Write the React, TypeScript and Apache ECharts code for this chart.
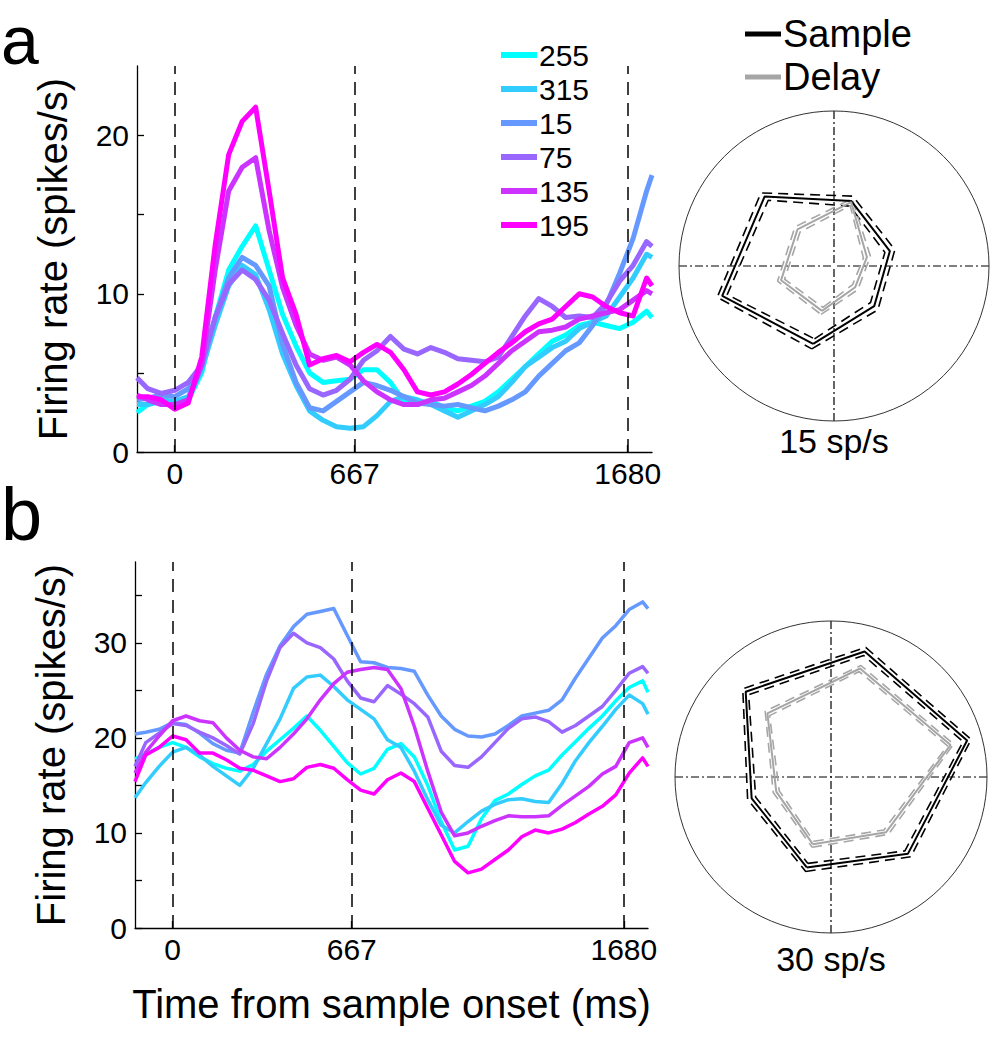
import React, { useEffect, useRef } from 'react';
import * as echarts from 'echarts';

// ---------- data ----------
const times = [-140, -100, -50, 0, 50, 100, 150, 200, 250, 300, 350, 400, 450, 500, 550, 600, 650, 700, 750, 800,
  850, 900, 950, 1000, 1050, 1100, 1150, 1200, 1250, 1300, 1350, 1400, 1450, 1500, 1550, 1600, 1650, 1700, 1750, 1770];

const directions = ['255', '315', '15', '75', '135', '195'];
const directionColors = ['#00ffff', '#33ccff', '#6699ff', '#9966ff', '#cc33ff', '#ff00ff'];

// panel a (spikes/s)
const rateA255 = [2.5, 3.0, 3.2, 3.0, 3.3, 5.0, 8.5, 11.5, 13.0, 14.3, 11.5, 8.7, 6.7, 5.0, 4.4, 4.5, 4.6, 5.2, 5.2, 4.4,
  3.2, 3.0, 3.2, 2.8, 2.6, 2.9, 3.2, 3.8, 4.6, 5.4, 6.2, 7.0, 7.4, 8.0, 8.2, 8.0, 7.8, 8.2, 8.9, 8.5];
const rateA315 = [3.0, 3.0, 3.3, 3.2, 3.5, 5.2, 8.0, 10.5, 11.8, 11.2, 9.0, 6.2, 4.2, 2.6, 2.0, 1.6, 1.5, 1.6, 2.3, 3.2,
  3.5, 3.3, 3.0, 2.6, 2.2, 2.6, 3.0, 3.5, 4.4, 5.4, 6.0, 6.6, 7.0, 7.8, 8.2, 8.6, 9.8, 11.0, 12.5, 12.3];
const rateA15 = [3.3, 3.4, 3.6, 3.5, 4.0, 5.5, 8.5, 11.0, 12.3, 11.8, 10.5, 6.8, 4.4, 2.8, 2.6, 3.2, 3.8, 4.4, 4.2, 3.9,
  3.5, 3.1, 3.0, 2.9, 3.0, 2.8, 2.6, 2.9, 3.3, 3.8, 4.8, 5.6, 6.4, 6.9, 8.0, 9.3, 11.3, 13.5, 16.5, 17.5];
const rateA75 = [4.7, 4.0, 3.7, 3.9, 4.4, 5.5, 8.5, 10.6, 11.5, 10.9, 9.6, 7.5, 5.5, 4.0, 3.6, 3.9, 4.6, 5.8, 6.4, 7.3,
  6.5, 6.2, 6.6, 6.3, 5.9, 5.8, 5.7, 6.0, 7.3, 8.6, 9.7, 9.2, 8.5, 8.6, 8.5, 9.4, 10.8, 11.8, 13.3, 13.0];
const rateA135 = [3.6, 3.3, 3.0, 3.0, 3.3, 5.5, 11.5, 16.5, 18.0, 18.6, 14.0, 10.4, 8.0, 6.2, 5.8, 6.0, 5.5, 4.5, 3.8, 3.3,
  3.0, 3.0, 3.3, 3.4, 3.8, 4.2, 4.8, 5.6, 6.4, 7.0, 7.6, 7.7, 7.9, 8.4, 8.6, 8.8, 9.0, 9.6, 10.2, 10.0];
const rateA195 = [3.5, 3.5, 3.3, 2.7, 3.1, 6.0, 13.1, 18.8, 20.9, 21.8, 16.5, 11.0, 8.7, 5.5, 5.9, 6.1, 5.7, 6.3, 6.8, 6.3,
  5.2, 3.8, 3.6, 3.8, 4.3, 4.9, 5.6, 6.3, 6.9, 7.6, 8.1, 8.4, 9.2, 10.0, 9.8, 9.2, 8.8, 8.6, 11.0, 10.5];

// panel b (spikes/s)
const rateB255 = [17.8, 18.3, 19.0, 19.5, 19.0, 18.0, 17.3, 16.8, 16.5, 17.2, 18.6, 19.8, 21.0, 22.3, 20.8, 19.1, 17.4, 16.2, 16.8, 18.8,
  19.4, 18.0, 15.0, 11.2, 8.2, 8.6, 11.5, 13.4, 14.1, 15.1, 16.0, 16.6, 18.2, 19.6, 21.0, 22.3, 23.9, 25.3, 26.0, 24.8];
const rateB315 = [13.7, 15.3, 17.0, 18.5, 19.0, 18.2, 17.0, 16.0, 15.0, 16.8, 19.4, 22.0, 25.2, 26.4, 26.6, 25.4, 24.0, 23.0, 22.0, 19.8,
  19.0, 16.5, 13.5, 10.8, 10.0, 11.2, 12.3, 13.0, 13.5, 13.6, 13.3, 13.2, 15.2, 17.6, 19.5, 21.2, 23.0, 24.5, 23.6, 22.5];
const rateB15 = [20.4, 20.6, 20.9, 21.6, 21.4, 20.5, 19.4, 18.7, 18.4, 22.7, 26.7, 29.7, 31.7, 33.0, 33.3, 33.6, 30.8, 28.0, 27.9, 27.4,
  27.3, 27.0, 24.5, 22.3, 20.9, 20.2, 20.1, 20.4, 21.3, 22.3, 22.6, 22.9, 24.0, 26.3, 28.4, 30.5, 31.8, 33.5, 34.3, 33.6];
const rateB75 = [17.0, 19.5, 20.5, 21.5, 21.3, 20.6, 20.0, 19.2, 18.3, 21.5, 26.0, 29.5, 31.0, 30.0, 29.5, 28.3, 26.0, 24.2, 23.8, 25.5,
  24.6, 23.6, 22.2, 18.6, 17.1, 16.9, 18.0, 19.5, 21.0, 22.0, 22.2, 21.7, 20.6, 21.3, 22.3, 23.3, 25.0, 26.8, 27.5, 26.8];
const rateB135 = [16.3, 18.5, 20.2, 21.8, 22.3, 21.8, 21.6, 20.0, 18.7, 18.0, 17.8, 19.0, 20.4, 22.0, 24.0, 25.7, 26.9, 27.2, 27.4, 27.2,
  25.2, 21.2, 16.5, 12.2, 9.7, 10.0, 10.7, 11.3, 11.8, 11.7, 11.7, 11.8, 12.9, 13.9, 14.9, 16.2, 17.0, 19.5, 20.0, 19.0];
const rateB195 = [15.4, 18.2, 19.0, 20.2, 19.8, 18.4, 18.4, 17.7, 16.8, 16.6, 16.0, 15.4, 15.7, 16.9, 17.2, 16.8, 15.6, 14.5, 14.1, 15.6,
  16.3, 15.4, 12.6, 9.8, 7.0, 5.8, 6.2, 7.2, 8.2, 9.6, 10.3, 10.0, 10.4, 11.1, 12.0, 12.8, 14.0, 16.3, 17.9, 17.0];

const eventTimes = [0, 667, 1680];
const xTicks = [0, 667, 1680];
const yTicksA = [0, 5, 10, 15, 20];
const yLabelsA = [0, 10, 20];
const yTicksB = [0, 5, 10, 15, 20, 25, 30, 35];
const yLabelsB = [0, 10, 20, 30];

// polar tuning (directions 255,315,15,75,135,195 deg), sp/s
const polarAngles = [255, 315, 15, 75, 135, 195];
const sampleA = [7.8, 5.5, 5.6, 6.5, 9.5, 11.2];
const sampleAHigh = [8.3, 6.0, 6.1, 7.0, 10.0, 11.7];
const sampleALow = [7.3, 5.0, 5.1, 6.0, 9.0, 10.7];
const delayA = [4.5, 2.9, 3.3, 6.4, 5.0, 5.3];
const delayAHigh = [4.85, 3.25, 3.65, 6.75, 5.35, 5.65];
const delayALow = [4.15, 2.55, 2.95, 6.05, 4.65, 4.95];
const sampleB = [18.0, 20.9, 27.1, 25.0, 23.2, 15.8];
const sampleBHigh = [18.8, 21.7, 27.9, 25.8, 24.0, 16.6];
const sampleBLow = [17.2, 20.1, 26.3, 24.2, 22.4, 15.0];
const delayB = [13.4, 15.0, 23.8, 21.6, 17.3, 10.9];
const delayBHigh = [14.0, 15.6, 24.4, 22.2, 17.9, 11.5];
const delayBLow = [12.8, 14.4, 23.2, 21.0, 16.7, 10.3];

const FONT = '"Liberation Sans", Arial, Helvetica, sans-serif';

function buildOption() {
  const panelA = [rateA255, rateA315, rateA15, rateA75, rateA135, rateA195];
  const panelB = [rateB255, rateB315, rateB15, rateB75, rateB135, rateB195];

  const traceSeries = (panel: number[][], idx: number, width: number) =>
    directions.map((d, i) => ({
      type: 'line',
      name: d,
      xAxisIndex: idx,
      yAxisIndex: idx,
      data: times.map((t, j) => [t, panel[i][j]]),
      symbol: 'none',
      showSymbol: false,
      lineStyle: { color: directionColors[i], width, join: 'round' },
      itemStyle: { color: directionColors[i] },
      z: 3,
      silent: true,
    }));

  const eventSeries = (idx: number) => ({
    type: 'line',
    name: 'events' + idx,
    xAxisIndex: idx,
    yAxisIndex: idx,
    data: [],
    z: 1,
    silent: true,
    markLine: {
      silent: true,
      symbol: ['none', 'none'],
      label: { show: false },
      lineStyle: { color: '#000', width: 1.5, type: [13, 8] },
      data: eventTimes.map((t) => ({ xAxis: t })),
    },
  });

  const poly = (vals: number[]) => {
    const pts = polarAngles.map((a, k) => [vals[k], a]);
    pts.push(pts[0]);
    return pts;
  };
  const polarLine = (name: string, polarIndex: number, vals: number[], color: string, dashed: boolean) => ({
    type: 'line',
    name,
    coordinateSystem: 'polar',
    polarIndex,
    data: poly(vals),
    symbol: 'none',
    showSymbol: false,
    silent: true,
    z: dashed ? 4 : 5,
    lineStyle: { color, width: dashed ? 1.6 : 2, type: dashed ? [10, 6] : 'solid' },
    itemStyle: { color },
  });

  const BLACK = '#000000';
  const GRAY = '#a6a6a6';
  const plain = (v: number) => String(v);

  const xAxisBase = (gridIndex: number) => ({
    gridIndex,
    type: 'value',
    min: -140,
    max: 1770,
    splitLine: { show: false },
    axisLine: { show: true, onZero: false, lineStyle: { color: '#000', width: 1.3 } },
    axisTick: { show: true, inside: true, length: 7, customValues: xTicks, lineStyle: { color: '#000', width: 1.3 } },
    axisLabel: { customValues: xTicks, formatter: plain, fontSize: 30, color: '#000', fontFamily: FONT, margin: 6 },
  });
  const yAxisBase = (gridIndex: number, max: number, ticks: number[], labels: number[]) => ({
    gridIndex,
    type: 'value',
    min: 0,
    max,
    splitLine: { show: false },
    axisLine: { show: true, onZero: false, lineStyle: { color: '#000', width: 1.3 } },
    axisTick: { show: true, inside: true, length: 7, customValues: ticks, lineStyle: { color: '#000', width: 1.3 } },
    axisLabel: { customValues: labels, formatter: plain, fontSize: 30, color: '#000', fontFamily: FONT, margin: 8 },
    name: 'Firing rate (spikes/s)',
    nameLocation: 'middle',
    nameRotate: 90,
    nameGap: 64,
    nameTextStyle: { fontSize: 40, color: '#000', fontFamily: FONT },
  });

  const angleAxisBase = (polarIndex: number) => ({
    polarIndex,
    type: 'value',
    min: 0,
    max: 360,
    interval: 90,
    startAngle: 0,
    clockwise: false,
    axisLine: { show: true, lineStyle: { color: '#333', width: 1 } },
    axisTick: { show: false },
    axisLabel: { show: false },
    splitLine: { show: true, lineStyle: { color: '#000', width: 1.2, type: [8, 3, 2, 3] } },
  });
  const radiusAxisBase = (polarIndex: number, max: number) => ({
    polarIndex,
    type: 'value',
    min: 0,
    max,
    axisLine: { show: false },
    axisTick: { show: false },
    axisLabel: { show: false },
    splitLine: { show: false },
  });

  return {
    animation: false,
    backgroundColor: '#ffffff',
    textStyle: { fontFamily: FONT },
    grid: [
      { left: 137, top: 66, width: 515, height: 386 },
      { left: 135, top: 562, width: 513, height: 366 },
    ],
    xAxis: [
      xAxisBase(0),
      {
        ...xAxisBase(1),
        name: 'Time from sample onset (ms)',
        nameLocation: 'middle',
        nameGap: 56,
        nameTextStyle: { fontSize: 40, color: '#000', fontFamily: FONT },
      },
    ],
    yAxis: [yAxisBase(0, 24.4, yTicksA, yLabelsA), yAxisBase(1, 38.5, yTicksB, yLabelsB)],
    polar: [
      { center: [834, 266], radius: 155 },
      { center: [831, 777], radius: 156 },
    ],
    angleAxis: [angleAxisBase(0), angleAxisBase(1)],
    radiusAxis: [radiusAxisBase(0, 15), radiusAxisBase(1, 30)],
    legend: [
      {
        data: directions,
        orient: 'vertical',
        left: 496,
        top: 35,
        icon: 'rect',
        itemWidth: 36,
        itemHeight: 6,
        itemGap: 4,
        selectedMode: false,
        textStyle: { fontSize: 30, lineHeight: 30, color: '#000', fontFamily: FONT, padding: [0, 0, 0, -3] },
      },
      {
        data: ['Sample', 'Delay'],
        orient: 'vertical',
        left: 740,
        top: 9,
        icon: 'rect',
        itemWidth: 36,
        itemHeight: 5,
        itemGap: 3,
        selectedMode: false,
        textStyle: { fontSize: 38, lineHeight: 40, color: '#000', fontFamily: FONT, padding: [0, 0, 0, -3] },
      },
    ],
    series: [
      eventSeries(0),
      eventSeries(1),
      ...traceSeries(panelA, 0, 5),
      ...traceSeries(panelB, 1, 3.5),
      polarLine('Sample', 0, sampleA, BLACK, false),
      polarLine('Sample hi a', 0, sampleAHigh, BLACK, true),
      polarLine('Sample lo a', 0, sampleALow, BLACK, true),
      polarLine('Delay', 0, delayA, GRAY, false),
      polarLine('Delay hi a', 0, delayAHigh, GRAY, true),
      polarLine('Delay lo a', 0, delayALow, GRAY, true),
      polarLine('Sample', 1, sampleB, BLACK, false),
      polarLine('Sample hi b', 1, sampleBHigh, BLACK, true),
      polarLine('Sample lo b', 1, sampleBLow, BLACK, true),
      polarLine('Delay', 1, delayB, GRAY, false),
      polarLine('Delay hi b', 1, delayBHigh, GRAY, true),
      polarLine('Delay lo b', 1, delayBLow, GRAY, true),
    ],
  };
}

function buildGraphic() {
  return [
    { type: 'text', x: 1, y: 40, style: { text: 'a', fontSize: 68, fontFamily: FONT, fill: '#000', verticalAlign: 'middle', align: 'left' } },
    { type: 'text', x: 1, y: 514, style: { text: 'b', fontSize: 74, fontFamily: FONT, fill: '#000', verticalAlign: 'middle', align: 'left' } },
    { type: 'text', x: 834, y: 441, style: { text: '15 sp/s', fontSize: 34, fontFamily: FONT, fill: '#000', verticalAlign: 'middle', align: 'center' } },
    { type: 'text', x: 831, y: 959, style: { text: '30 sp/s', fontSize: 34, fontFamily: FONT, fill: '#000', verticalAlign: 'middle', align: 'center' } },
  ];
}

export default function App() {
  const ref = useRef<HTMLDivElement>(null);
  useEffect(() => {
    if (!ref.current) return;
    const chart = echarts.init(ref.current, undefined, { renderer: 'svg' });
    const option: any = buildOption();
    option.graphic = buildGraphic();
    chart.setOption(option);
    return () => chart.dispose();
  }, []);
  return (
    <div
      ref={ref}
      style={{ position: 'absolute', left: 0, top: 0, width: 992, height: 1050, background: '#fff' }}
    />
  );
}
